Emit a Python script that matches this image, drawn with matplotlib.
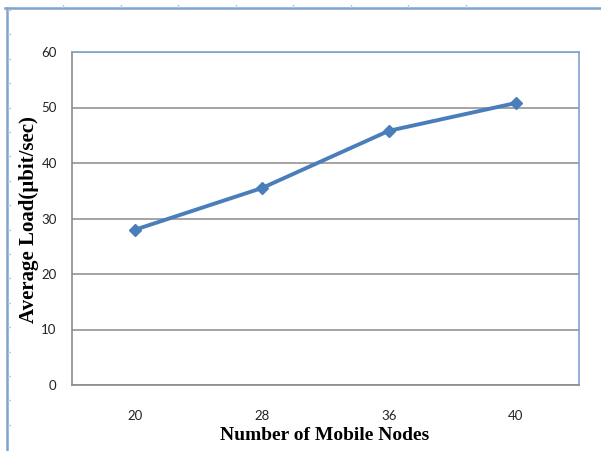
import matplotlib.pyplot as plt
from matplotlib.lines import Line2D

nodes = ['20', '28', '36', '40']
avg_load = [28, 35.5, 45.8, 50.8]
y_ticks = [0, 10, 20, 30, 40, 50, 60]

W, H = 601, 451
fig = plt.figure(figsize=(W / 100, H / 100), dpi=100)

# plot area in pixel terms -> figure fractions
left, right, top, bottom = 72, 579, 52, 385
ax = fig.add_axes([left / W, 1 - bottom / H, (right - left) / W, (bottom - top) / H])

x = range(len(nodes))
ax.plot(x, avg_load, color='#4a7ebb', linewidth=2.8, marker='D', markersize=6.5,
        markeredgecolor='#4a7ebb', markerfacecolor='#4a7ebb', zorder=3)

ax.set_xlim(-0.5, len(nodes) - 0.5)
ax.set_ylim(0, 60)
ax.set_xticks(list(x))
ax.set_xticklabels(nodes)
ax.set_yticks(y_ticks)
ax.tick_params(length=0, labelsize=9.5, colors='#222222')
ax.tick_params(axis='x', pad=18)
ax.tick_params(axis='y', pad=11)
for t in ax.get_xticklabels() + ax.get_yticklabels():
    t.set_fontfamily('Lato')
ax.yaxis.grid(True, color='#8c8c8c', linewidth=1.1)
ax.set_axisbelow(True)

for side in ['top', 'right']:
    ax.spines[side].set_color('#7fa3cf')
    ax.spines[side].set_linewidth(1.2)
for side in ['left', 'bottom']:
    ax.spines[side].set_color('#8c8c8c')
    ax.spines[side].set_linewidth(1.2)

fig.text(325 / W, 1 - 436 / H, 'Number of Mobile Nodes', ha='center', va='center',
         fontsize=14, fontweight='bold', family='Liberation Serif')
fig.text(29 / W, 1 - 220 / H, 'Average Load(\u00b5bit/sec)', ha='center', va='center',
         rotation=90, fontsize=15, fontweight='bold', family='Liberation Serif')

# outer frame lines with small ruler marks
fig.add_artist(Line2D([5 / W, 1], [1 - 7.5 / H] * 2, color='#7fa3cf', linewidth=1.8))
fig.add_artist(Line2D([6.5 / W] * 2, [0, 1 - 7.5 / H], color='#7fa3cf', linewidth=1.8))
for px in [63, 121, 178, 236, 293, 351, 408, 466]:
    fig.add_artist(Line2D([px / W] * 2, [1 - 5 / H, 1 - 7 / H], color='#c8c8c8', linewidth=1))
for i in range(18):
    py = 10 + 24.4 * i
    if py < H:
        fig.add_artist(Line2D([8 / W, 10 / W], [1 - py / H] * 2, color='#c8c8c8', linewidth=1))

fig.savefig('out.png', dpi=100)
